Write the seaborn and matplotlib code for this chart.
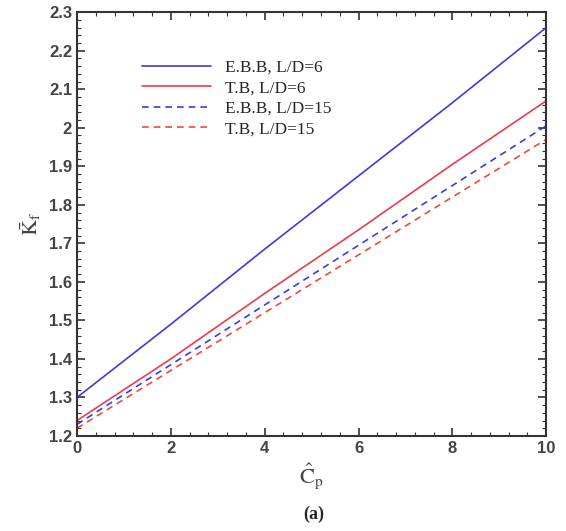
import matplotlib
matplotlib.use("Agg")
import matplotlib.pyplot as plt
import seaborn as sns
import pandas as pd
from matplotlib.ticker import MultipleLocator, FormatStrFormatter

cp = [0, 2, 4, 6, 8, 10]
ebb_6 = [1.30, 1.49, 1.685, 1.875, 2.065, 2.26]
tb_6 = [1.24, 1.40, 1.57, 1.735, 1.905, 2.07]
ebb_15 = [1.23, 1.385, 1.54, 1.695, 1.85, 2.005]
tb_15 = [1.22, 1.37, 1.52, 1.67, 1.82, 1.97]
labels = ["E.B.B, L/D=6", "T.B, L/D=6", "E.B.B, L/D=15", "T.B, L/D=15"]

sns.set_style("ticks")
plt.rcParams["mathtext.fontset"] = "stix"

rows = []
for lab, vals in zip(labels, [ebb_6, tb_6, ebb_15, tb_15]):
    for x, y in zip(cp, vals):
        rows.append({"Cp": x, "Kf": y, "series": lab})
df = pd.DataFrame(rows)

fig = plt.figure(figsize=(5.66, 5.31), dpi=100)
ax = fig.add_axes([0.136, 0.179, 0.829, 0.798])

palette = {labels[0]: "#3b3be0", labels[1]: "#ee3a4a", labels[2]: "#3b3be0", labels[3]: "#ee4a3a"}
dashes = {labels[0]: "", labels[1]: "", labels[2]: (4, 3), labels[3]: (4, 3)}
sns.lineplot(data=df, x="Cp", y="Kf", hue="series", style="series", palette=palette,
             dashes=dashes, hue_order=labels, style_order=labels, linewidth=1.2, ax=ax)

ax.set_xlim(0, 10)
ax.set_ylim(1.2, 2.3)
ax.xaxis.set_major_locator(MultipleLocator(2))
ax.xaxis.set_minor_locator(MultipleLocator(0.4))
ax.yaxis.set_major_locator(MultipleLocator(0.1))
ax.yaxis.set_minor_locator(MultipleLocator(0.02))
ax.yaxis.set_major_formatter(FormatStrFormatter("%g"))
ax.tick_params(which="both", direction="in", top=True, right=True, colors="#333333")
ax.tick_params(which="major", length=6, width=1.2)
ax.tick_params(which="minor", length=3, width=0.8)
for lbl in ax.get_xticklabels() + ax.get_yticklabels():
    lbl.set_fontfamily("Liberation Sans")
    lbl.set_fontweight("bold")
    lbl.set_fontsize(12)
    lbl.set_color("#444444")
for s in ax.spines.values():
    s.set_linewidth(1.5)
    s.set_color("#333333")

ax.set_xlabel(r"$\hat{\mathrm{C}}_{\mathrm{p}}$", fontsize=16, color="#444444")
ax.set_ylabel(r"$\bar{\mathrm{K}}_{\mathrm{f}}$", fontsize=16, color="#444444")

leg = ax.legend(loc="upper left", bbox_to_anchor=(0.105, 0.925), frameon=False,
                prop={"family": "Liberation Serif", "size": 12.5}, handlelength=4.0,
                labelspacing=0.25)

fig.text(0.555, 0.022, "(a)", ha="center", fontsize=13, fontweight="bold",
         family="Liberation Serif")

fig.savefig("out.png", dpi=100)
